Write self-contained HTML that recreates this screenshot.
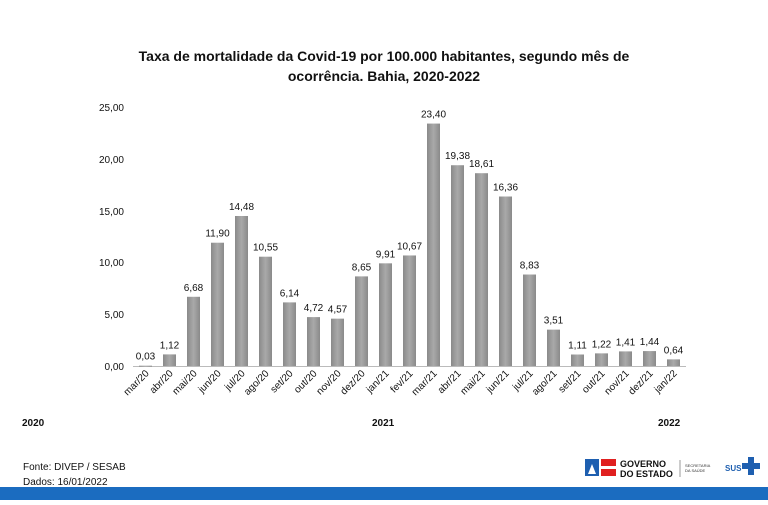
<!DOCTYPE html>
<html><head><meta charset="utf-8"><style>
body{margin:0;background:#fff;}
svg text{font-family:"Liberation Sans",sans-serif;}
</style></head><body>
<svg width="768" height="500" viewBox="0 0 768 500" xmlns="http://www.w3.org/2000/svg">
<defs><linearGradient id="g" x1="0" x2="1" y1="0" y2="0">
<stop offset="0" stop-color="#8a8a8a"/><stop offset="0.5" stop-color="#a9a9a9"/><stop offset="1" stop-color="#8a8a8a"/></linearGradient></defs>
<text x="384" y="61" text-anchor="middle" font-size="14" font-weight="bold" fill="#111">Taxa de mortalidade da Covid-19 por 100.000 habitantes, segundo mês de</text>
<text x="384" y="81" text-anchor="middle" font-size="14" font-weight="bold" fill="#111">ocorrência. Bahia, 2020-2022</text>
<g font-size="10" fill="#111" text-anchor="end">
<text x="124" y="370">0,00</text><text x="124" y="318">5,00</text><text x="124" y="266">10,00</text>
<text x="124" y="215">15,00</text><text x="124" y="163">20,00</text><text x="124" y="111">25,00</text>
</g>
<line x1="133" y1="366.5" x2="686" y2="366.5" stroke="#bbb" stroke-width="1"/>
<g id="bars" fill="url(#g)"></g>
<g id="vals" font-size="10" fill="#111" text-anchor="middle"></g>
<g id="labs" font-size="10" fill="#111" text-anchor="end"></g>
<g font-size="10" font-weight="bold" fill="#111">
<text x="22" y="426">2020</text><text x="372" y="426">2021</text><text x="658" y="426">2022</text>
</g>
<g font-size="10" fill="#111"><text x="23" y="470">Fonte: DIVEP / SESAB</text><text x="23" y="485">Dados: 16/01/2022</text></g>
<rect x="0" y="487" width="768" height="13" fill="#1b6cc0"/>
<rect x="585" y="459" width="14" height="17" fill="#1e5fb0"/>
<polygon points="588,474 592,464 596,474" fill="#fff"/>
<rect x="601" y="459" width="15" height="7" fill="#e02020"/>
<rect x="601" y="469" width="15" height="7" fill="#e02020"/>
<text x="620" y="467" font-size="9" font-weight="bold" fill="#111">GOVERNO</text>
<text x="620" y="477" font-size="9" font-weight="bold" fill="#111">DO ESTADO</text>
<line x1="680" y1="460" x2="680" y2="477" stroke="#999"/>
<text x="685" y="467" font-size="4" fill="#333">SECRETARIA</text><text x="685" y="472" font-size="4" fill="#333">DA SAÚDE</text>
<text x="725" y="471" font-size="8" font-weight="bold" fill="#1e5fb0">SUS</text>
<path d="M748 457h6v6h6v6h-6v6h-6v-6h-6v-6h6z" fill="#1e5fb0"/>
</svg>
<script>
var v=[0.03,1.12,6.68,11.90,14.48,10.55,6.14,4.72,4.57,8.65,9.91,10.67,23.40,19.38,18.61,16.36,8.83,3.51,1.11,1.22,1.41,1.44,0.64];
var l=["mar/20","abr/20","mai/20","jun/20","jul/20","ago/20","set/20","out/20","nov/20","dez/20","jan/21","fev/21","mar/21","abr/21","mai/21","jun/21","jul/21","ago/21","set/21","out/21","nov/21","dez/21","jan/22"];
var ns="http://www.w3.org/2000/svg",b=document.getElementById("bars"),t=document.getElementById("vals"),L=document.getElementById("labs");
v.forEach(function(x,i){var cx=145.5+i*24,h=x*10.36,y=366-h;
var r=document.createElementNS(ns,"rect");r.setAttribute("x",cx-6.5);r.setAttribute("y",y);r.setAttribute("width",13);r.setAttribute("height",Math.max(h,1));b.appendChild(r);
var s=document.createElementNS(ns,"text");s.setAttribute("x",cx);s.setAttribute("y",y-6);s.textContent=x.toFixed(2).replace(".",",");t.appendChild(s);
var q=document.createElementNS(ns,"text");q.setAttribute("transform","translate("+(cx+4)+",374) rotate(-45)");q.textContent=l[i];L.appendChild(q);});
</script>
</body></html>
